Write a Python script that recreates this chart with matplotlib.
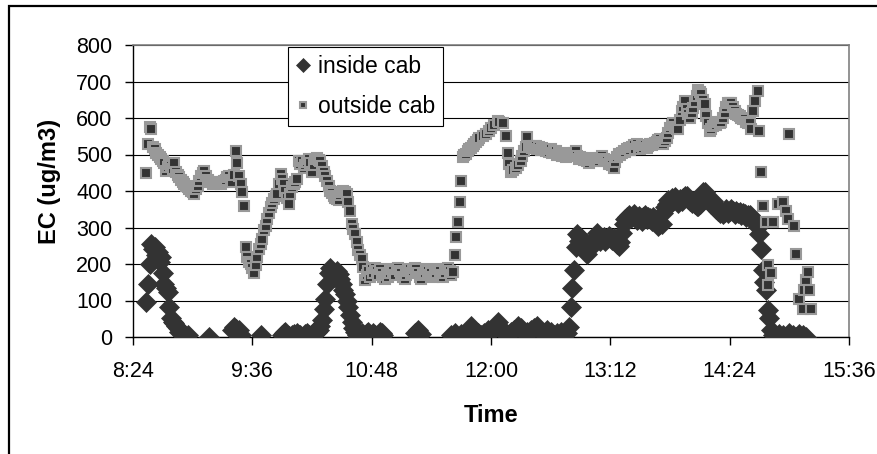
import matplotlib
matplotlib.use("Agg")
import matplotlib.pyplot as plt
from matplotlib.patches import Rectangle
from matplotlib.ticker import FixedLocator, FuncFormatter

plt.rcParams['font.family'] = ['Liberation Sans', 'DejaVu Sans']

# EC readings, time of day (H:MM) -> ug/m3
inside_time = [
    "8:32", "8:33", "8:34", "8:35", "8:36", "8:37", "8:38", "8:39", "8:40", "8:41",
    "8:42", "8:43", "8:44", "8:45", "8:46", "8:47", "8:48", "8:49", "8:50", "8:51",
    "8:52", "8:53", "8:54", "8:55", "8:56", "8:57", "9:10", "9:24", "9:25", "9:26",
    "9:27", "9:28", "9:29", "9:41", "9:54", "9:55", "9:56", "9:57", "9:58", "9:59",
    "10:00", "10:01", "10:02", "10:03", "10:04", "10:05", "10:06", "10:07", "10:08", "10:09",
    "10:10", "10:11", "10:12", "10:13", "10:14", "10:15", "10:16", "10:17", "10:18", "10:19",
    "10:20", "10:21", "10:22", "10:23", "10:24", "10:25", "10:26", "10:27", "10:28", "10:29",
    "10:30", "10:31", "10:32", "10:33", "10:34", "10:35", "10:36", "10:37", "10:38", "10:39",
    "10:40", "10:41", "10:42", "10:43", "10:44", "10:45", "10:46", "10:47", "10:48", "10:49",
    "10:50", "10:51", "10:52", "10:53", "10:54", "10:55", "11:14", "11:16", "11:18", "11:36",
    "11:38", "11:40", "11:42", "11:44", "11:46", "11:48", "11:50", "11:52", "11:54", "11:56",
    "11:58", "12:00", "12:02", "12:04", "12:06", "12:08", "12:10", "12:12", "12:14", "12:16",
    "12:18", "12:20", "12:22", "12:24", "12:26", "12:28", "12:30", "12:32", "12:34", "12:36",
    "12:38", "12:40", "12:42", "12:44", "12:46", "12:47", "12:48", "12:49", "12:50", "12:51",
    "12:52", "12:53", "12:54", "12:55", "12:56", "12:57", "12:58", "12:59", "13:00", "13:01",
    "13:02", "13:03", "13:04", "13:05", "13:06", "13:07", "13:08", "13:09", "13:10", "13:11",
    "13:12", "13:13", "13:14", "13:15", "13:16", "13:17", "13:18", "13:19", "13:20", "13:21",
    "13:22", "13:23", "13:24", "13:25", "13:26", "13:27", "13:28", "13:29", "13:30", "13:31",
    "13:32", "13:33", "13:34", "13:35", "13:36", "13:37", "13:38", "13:39", "13:40", "13:41",
    "13:42", "13:43", "13:44", "13:45", "13:46", "13:47", "13:48", "13:49", "13:50", "13:51",
    "13:52", "13:53", "13:54", "13:55", "13:56", "13:57", "13:58", "13:59", "14:00", "14:01",
    "14:02", "14:03", "14:04", "14:05", "14:06", "14:07", "14:08", "14:09", "14:10", "14:11",
    "14:12", "14:13", "14:14", "14:15", "14:16", "14:17", "14:18", "14:19", "14:20", "14:21",
    "14:22", "14:23", "14:24", "14:25", "14:26", "14:27", "14:28", "14:29", "14:30", "14:31",
    "14:32", "14:33", "14:34", "14:35", "14:36", "14:37", "14:38", "14:39", "14:40", "14:41",
    "14:42", "14:43", "14:44", "14:45", "14:46", "14:47", "14:48", "14:49", "14:50", "14:52",
    "14:54", "14:56", "14:58", "15:00", "15:02", "15:04", "15:06", "15:08", "15:10",
]
inside_ec = [
    96, 146, 201, 255, 240, 246, 225, 233, 205, 219,
    174, 146, 135, 124, 83, 51, 40, 37, 30, 24,
    15, 10, 5, 2, 0, 5, 0, 20, 27, 22,
    15, 19, 5, 5, 5, 10, 14, 5, 2, 0,
    5, 8, 2, 10, 5, 5, 0, 3, 8, 10,
    5, 0, 5, 14, 10, 15, 20, 30, 46, 78,
    105, 146, 175, 190, 178, 164, 172, 180, 172, 160,
    146, 130, 119, 100, 83, 60, 40, 25, 15, 5,
    0, 8, 12, 5, 0, 10, 15, 5, 0, 10,
    5, 0, 5, 15, 10, 5, 10, 18, 8, 5,
    10, 0, 8, 5, 12, 30, 20, 10, 5, 12,
    20, 15, 25, 40, 25, 10, 5, 15, 20, 30,
    25, 10, 15, 20, 25, 30, 15, 10, 20, 15,
    5, 10, 15, 5, 10, 28, 83, 133, 183, 246,
    283, 262, 275, 255, 245, 238, 228, 240, 250, 258,
    264, 270, 285, 275, 264, 270, 275, 262, 270, 278,
    274, 265, 270, 262, 255, 250, 260, 285, 310, 322,
    328, 335, 325, 330, 337, 328, 320, 332, 325, 318,
    328, 335, 322, 330, 325, 318, 328, 320, 315, 305,
    310, 310, 340, 355, 364, 375, 365, 380, 372, 383,
    375, 368, 378, 373, 380, 387, 387, 378, 373, 368,
    373, 365, 358, 360, 364, 380, 396, 396, 388, 380,
    373, 365, 373, 360, 350, 346, 340, 345, 338, 342,
    350, 340, 346, 352, 344, 338, 345, 340, 342, 335,
    340, 336, 330, 333, 333, 328, 322, 319, 310, 301,
    283, 242, 183, 150, 128, 74, 51, 19, 5, 0,
    8, 5, 0, 10, 5, 0, 8, 5, 0,
]

outside_time = [
    "8:32", "8:33", "8:34", "8:35", "8:36", "8:37", "8:38", "8:39", "8:40", "8:41",
    "8:42", "8:43", "8:44", "8:45", "8:46", "8:47", "8:48", "8:49", "8:50", "8:51",
    "8:52", "8:53", "8:54", "8:55", "8:56", "8:57", "8:58", "8:59", "9:00", "9:01",
    "9:02", "9:03", "9:04", "9:05", "9:06", "9:07", "9:08", "9:09", "9:10", "9:11",
    "9:12", "9:13", "9:14", "9:15", "9:16", "9:17", "9:18", "9:19", "9:20", "9:21",
    "9:22", "9:23", "9:24", "9:25", "9:26", "9:27", "9:28", "9:29", "9:30", "9:31",
    "9:32", "9:33", "9:34", "9:35", "9:36", "9:37", "9:38", "9:39", "9:40", "9:41",
    "9:42", "9:43", "9:44", "9:45", "9:46", "9:47", "9:48", "9:49", "9:50", "9:51",
    "9:52", "9:53", "9:54", "9:55", "9:56", "9:57", "9:58", "9:59", "10:00", "10:01",
    "10:02", "10:03", "10:04", "10:05", "10:06", "10:07", "10:08", "10:09", "10:10", "10:11",
    "10:12", "10:13", "10:14", "10:15", "10:16", "10:17", "10:18", "10:19", "10:20", "10:21",
    "10:22", "10:23", "10:24", "10:25", "10:26", "10:27", "10:28", "10:29", "10:30", "10:31",
    "10:32", "10:33", "10:34", "10:35", "10:36", "10:37", "10:38", "10:39", "10:40", "10:41",
    "10:42", "10:43", "10:44", "10:45", "10:46", "10:47", "10:48", "10:49", "10:50", "10:51",
    "10:52", "10:53", "10:54", "10:55", "10:56", "10:57", "10:58", "10:59", "11:00", "11:01",
    "11:02", "11:03", "11:04", "11:05", "11:06", "11:07", "11:08", "11:09", "11:10", "11:11",
    "11:12", "11:13", "11:14", "11:15", "11:16", "11:17", "11:18", "11:19", "11:20", "11:21",
    "11:22", "11:23", "11:24", "11:25", "11:26", "11:27", "11:28", "11:29", "11:30", "11:31",
    "11:32", "11:33", "11:34", "11:35", "11:36", "11:37", "11:38", "11:39", "11:40", "11:41",
    "11:42", "11:43", "11:44", "11:45", "11:46", "11:47", "11:48", "11:49", "11:50", "11:51",
    "11:52", "11:53", "11:55", "11:57", "11:59", "12:00", "12:02", "12:04", "12:05", "12:07",
    "12:09", "12:10", "12:11", "12:12", "12:13", "12:15", "12:16", "12:18", "12:19", "12:20",
    "12:21", "12:22", "12:23", "12:24", "12:25", "12:26", "12:27", "12:28", "12:29", "12:30",
    "12:31", "12:32", "12:33", "12:34", "12:35", "12:36", "12:37", "12:38", "12:39", "12:40",
    "12:41", "12:42", "12:43", "12:44", "12:45", "12:46", "12:47", "12:48", "12:49", "12:50",
    "12:51", "12:52", "12:53", "12:54", "12:55", "12:56", "12:57", "12:58", "12:59", "13:00",
    "13:01", "13:02", "13:03", "13:04", "13:05", "13:06", "13:07", "13:08", "13:09", "13:10",
    "13:11", "13:12", "13:13", "13:14", "13:15", "13:16", "13:17", "13:18", "13:19", "13:20",
    "13:21", "13:22", "13:23", "13:24", "13:25", "13:26", "13:27", "13:28", "13:29", "13:30",
    "13:31", "13:32", "13:33", "13:34", "13:35", "13:36", "13:37", "13:38", "13:39", "13:40",
    "13:41", "13:42", "13:43", "13:44", "13:45", "13:46", "13:47", "13:48", "13:49", "13:50",
    "13:51", "13:52", "13:53", "13:54", "13:55", "13:56", "13:57", "13:58", "13:59", "14:00",
    "14:01", "14:02", "14:03", "14:04", "14:05", "14:06", "14:07", "14:08", "14:09", "14:10",
    "14:11", "14:12", "14:13", "14:14", "14:15", "14:16", "14:17", "14:18", "14:19", "14:20",
    "14:21", "14:22", "14:23", "14:24", "14:25", "14:26", "14:27", "14:28", "14:29", "14:30",
    "14:31", "14:32", "14:33", "14:34", "14:35", "14:36", "14:37", "14:38", "14:39", "14:41",
    "14:42", "14:43", "14:44", "14:46", "14:47", "14:47", "14:49", "14:50", "14:53", "14:56",
    "14:58", "14:59", "15:00", "15:03", "15:04", "15:06", "15:08", "15:09", "15:10", "15:11",
    "15:12", "15:13",
]
outside_ec = [
    450, 530, 575, 570, 520, 515, 505, 498, 492, 488,
    483, 478, 455, 465, 473, 468, 460, 478, 451, 445,
    437, 430, 424, 418, 415, 410, 405, 400, 396, 392,
    405, 415, 428, 440, 448, 455, 440, 430, 424, 426,
    420, 422, 419, 421, 424, 420, 424, 428, 430, 437,
    440, 430, 425, 445, 510, 478, 442, 420, 396, 360,
    246, 219, 205, 200, 190, 174, 196, 219, 242, 255,
    269, 292, 305, 324, 340, 355, 368, 378, 385, 392,
    420, 446, 432, 419, 401, 380, 365, 392, 410, 420,
    425, 433, 483, 475, 483, 464, 472, 480, 487, 478,
    451, 472, 487, 490, 485, 483, 468, 451, 440, 428,
    415, 401, 395, 387, 382, 378, 374, 388, 398, 401,
    396, 392, 370, 346, 310, 296, 283, 260, 237, 225,
    215, 192, 155, 170, 180, 165, 185, 175, 190, 180,
    170, 185, 175, 165, 160, 170, 165, 175, 185, 180,
    170, 185, 190, 180, 175, 165, 160, 170, 180, 185,
    175, 180, 190, 185, 175, 165, 160, 170, 175, 185,
    180, 170, 175, 165, 170, 175, 185, 180, 170, 165,
    175, 185, 190, 180, 170, 178, 224, 274, 314, 369,
    428, 492, 498, 501, 510, 515, 519, 522, 528, 533,
    540, 546, 550, 555, 565, 573, 580, 592, 590, 587,
    551, 505, 473, 451, 458, 464, 470, 483, 495, 510,
    520, 548, 524, 520, 518, 522, 524, 515, 520, 512,
    518, 515, 510, 512, 508, 515, 505, 510, 510, 500,
    505, 498, 495, 500, 492, 495, 500, 505, 498, 505,
    510, 495, 487, 492, 490, 485, 488, 482, 478, 485,
    490, 488, 482, 485, 483, 490, 495, 488, 485, 483,
    473, 478, 470, 464, 480, 492, 501, 498, 505, 510,
    508, 515, 519, 512, 520, 525, 515, 528, 520, 515,
    522, 518, 525, 519, 524, 530, 525, 528, 532, 535,
    540, 542, 535, 530, 537, 545, 560, 573, 580, 585,
    575, 570, 569, 595, 619, 630, 646, 625, 610, 601,
    615, 628, 645, 660, 678, 670, 665, 650, 637, 605,
    585, 564, 570, 578, 583, 580, 590, 587, 590, 600,
    614, 630, 642, 640, 642, 630, 619, 612, 608, 605,
    600, 598, 596, 590, 585, 587, 569, 619, 646, 673,
    564, 451, 360, 314, 196, 142, 174, 314, 365, 369,
    346, 324, 555, 305, 228, 105, 78, 128, 155, 178,
    128, 78,
]

x_ticks = ["8:24", "9:36", "10:48", "12:00", "13:12", "14:24", "15:36"]


def to_minutes(s):
    h, m = s.split(":")
    return int(h) * 60 + int(m)


def fmt_time(v, pos):
    v = int(round(v))
    return f"{v // 60}:{v % 60:02d}"


fig = plt.figure(figsize=(8.78, 4.54), dpi=100)
ax = fig.add_axes([133 / 878, 117 / 454, 716 / 878, 292 / 454])

ax.plot([to_minutes(t) for t in inside_time], inside_ec, ls="none", marker="D",
        ms=9.8, mfc="#333333", mec="#333333", mew=0.5, label="inside cab", zorder=3)
ax.plot([to_minutes(t) for t in outside_time], outside_ec, ls="none", marker="s",
        ms=7, mfc="#333333", mec="#999999", mew=1.5, label="outside cab", zorder=4)

tick_pos = [to_minutes(t) for t in x_ticks]
ax.set_xlim(tick_pos[0], tick_pos[-1])
ax.set_ylim(0, 800)
ax.xaxis.set_major_locator(FixedLocator(tick_pos))
ax.xaxis.set_major_formatter(FuncFormatter(fmt_time))
ax.set_yticks(range(0, 801, 100))

ax.yaxis.grid(True, color="black", lw=0.8)
ax.set_axisbelow(True)
for side in ["top", "right"]:
    ax.spines[side].set_color("#808080")
    ax.spines[side].set_linewidth(1.2)
for side in ["left", "bottom"]:
    ax.spines[side].set_color("black")
    ax.spines[side].set_linewidth(1.0)

ax.tick_params(axis="both", direction="out", length=5.5, width=1, labelsize=15.5)
ax.tick_params(axis="x", pad=12)
ax.tick_params(axis="y", pad=9.4)

ax.set_xlabel("Time", fontsize=17, fontweight="bold")
ax.xaxis.set_label_coords(0.5, -0.229)
ax.set_ylabel("EC (ug/m3)", fontsize=17, fontweight="bold")
ax.yaxis.set_label_coords(-0.1006, 0.532)

leg = ax.legend(loc="upper left", bbox_to_anchor=(155.3 / 716, 289.7 / 292), borderaxespad=0,
                fontsize=16.5, frameon=True, fancybox=False, framealpha=1,
                edgecolor="black", handletextpad=0.39, handlelength=0.56,
                labelspacing=0.74, borderpad=0.35, markerscale=0.7)
leg.get_frame().set_linewidth(0.8)

# outer chart border (cut off at right and bottom in the original)
fig.patches.append(Rectangle((9 / 878, -0.1), 1.2, 1.1 - 6 / 454, transform=fig.transFigure,
                             fill=False, edgecolor="black", lw=1.6))

fig.savefig("out.png", dpi=100)
